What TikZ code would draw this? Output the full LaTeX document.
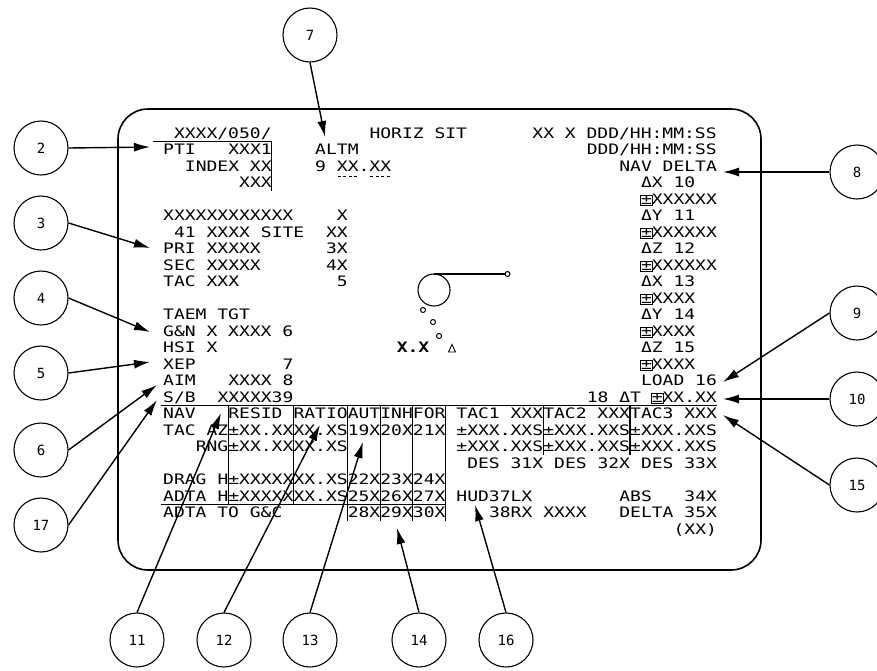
\documentclass[tikz,border=0pt]{standalone}
\usepackage{fontspec}
\usepackage{tikz}
\usetikzlibrary{arrows.meta,calc,positioning}
\newfontfamily\crtfont[FakeStretch=1.25]{DejaVu Sans Mono}
\newfontfamily\tagfont{DejaVu Sans Mono}
\newcommand{\bpm}{{\setlength{\fboxsep}{0.6pt}\setlength{\fboxrule}{0.5pt}\makebox[\fontcharwd\font`X][c]{\fbox{±}}}}
\tikzset{
  crt/.style={anchor=base west, inner sep=0pt, font=\crtfont\fontsize{14.4}{16}\selectfont},
  callout/.style={draw, circle, line width=1.1pt, minimum size=54pt, inner sep=0pt, font=\tagfont\fontsize{14}{14}\selectfont},
  pointer/.style={line width=1.4pt, -{Latex[length=16pt,width=9pt]}},
  bezel/.style={line width=1.6pt, rounded corners=30pt},
  rule/.style={line width=1.2pt}
}

\begin{document}
\begin{tikzpicture}[x=1pt,y=-1pt]
  \useasboundingbox (0,0) rectangle (877,670);
  % screen frame
  \draw[bezel] (118,109) rectangle (761,570);
  % callout circles
  \node[callout] (c7) at (310,35) {7};
  \node[callout] (c2) at (41,148) {2};
  \node[callout] (c3) at (41,223) {3};
  \node[callout] (c4) at (41,298) {4};
  \node[callout] (c5) at (41,373) {5};
  \node[callout] (c6) at (41,450) {6};
  \node[callout] (c17) at (41,525) {17};
  \node[callout] (c8) at (857,172) {8};
  \node[callout] (c9) at (857,313) {9};
  \node[callout] (c10) at (857,399) {10};
  \node[callout] (c15) at (857,485) {15};
  \node[callout] (c11) at (137,640) {11};
  \node[callout] (c12) at (224,640) {12};
  \node[callout] (c13) at (310,640) {13};
  \node[callout] (c14) at (419,640) {14};
  \node[callout] (c16) at (506,640) {16};
  % where the arrows point
  \coordinate (t7) at (325,137);
  \coordinate (t2) at (150,147);
  \coordinate (t3) at (150,248);
  \coordinate (t4) at (150,332);
  \coordinate (t5) at (150,362);
  \coordinate (t6) at (157,385);
  \coordinate (t17) at (157,400);
  \coordinate (t8) at (723,172);
  \coordinate (t9) at (723,382);
  \coordinate (t10) at (723,399);
  \coordinate (t15) at (723,415);
  \coordinate (t11) at (221,413);
  \coordinate (t12) at (320,425);
  \coordinate (t13) at (363,442);
  \coordinate (t14) at (397,528);
  \coordinate (t16) at (475,505);
  \draw[pointer] (c7.south) -- (t7);
  \foreach \n in {2,3,4,5,6,17} \draw[pointer] (c\n.east) -- (t\n);
  \foreach \n in {8,9,10,15} \draw[pointer] (c\n.west) -- (t\n);
  \foreach \n in {11,12,13,14,16} \draw[pointer] (c\n.north) -- (t\n);
  % horizontal situation symbols
  \draw[line width=1.1pt] (434,290) circle[radius=16];
  \draw[line width=1.1pt] (434,274) -- (505,274);
  \draw[line width=1pt] (507.5,274) circle[radius=2.5];
  \foreach \p in {(423,310),(433,322),(439,336)} \draw[line width=1pt] \p circle[radius=2.5];
  \node[crt, anchor=center, font=\crtfont\bfseries\fontsize{14.4}{16}\selectfont] (xdot) at (413,347) {X.X};
  \draw[line width=0.9pt] (448.5,352) -- (455.5,352) -- (452,344.5) -- cycle;
  % display text on a 51 x 26 grid
  \begin{scope}[shift={(163,138.25)}, x=10.86pt, y=-16.5pt]
    \node[crt] (dispid) at (1,0) {XXXX/050/};
    \node[crt] (title) at (19,0) {HORIZ~SIT};
    \node[crt] (gmt) at (34,0) {XX~X~DDD/HH:MM:SS};
    \node[crt] (pti) at (0,1) {PTI};
    \node[crt] (ptinum) at (6,1) {XXX1};
    \node[crt] (altm) at (14,1) {ALTM};
    \node[crt] (met) at (39,1) {DDD/HH:MM:SS};
    \node[crt] (index) at (2,2) {INDEX~XX};
    \node[crt] (item9) at (14,2) {9};
    \node[crt] (altmval) at (16,2) {XX.XX};
    \node[crt] (navdelta) at (42,2) {NAV~DELTA};
    \node[crt] (ptival) at (7,3) {XXX};
    \draw[line width=0.8pt, dash pattern=on 3pt off 2.4pt] (16.1,2.3) -- (17.9,2.3);
    \draw[line width=0.8pt, dash pattern=on 3pt off 2.4pt] (19.1,2.3) -- (20.9,2.3);
    % nav delta column
    \foreach \r/\t in {3/{ΔX~10},5/{ΔY~11},7/{ΔZ~12},9/{ΔX~13},11/{ΔY~14},13/{ΔZ~15}}
      \node[crt] (dl\r) at (44,\r) {\t};
    \foreach \r in {4,6,8} \node[crt] (dv\r) at (44,\r) {\bpm XXXXXX};
    \foreach \r in {10,12,14} \node[crt] (dv\r) at (44,\r) {\bpm XXXX};
    \node[crt] (load) at (44,15) {LOAD~16};
    \node[crt] (dtime) at (39,16) {18~ΔT~\bpm XX.XX};
    % runway block
    \node[crt] (rwid) at (0,5) {XXXXXXXXXXXX};
    \node[crt] (rwx) at (16,5) {X};
    \node[crt] (item41) at (1,6) {41};
    \node[crt] (rwname) at (4,6) {XXXX};
    \node[crt] (site) at (9,6) {SITE};
    \node[crt] (sitenum) at (15,6) {XX};
    \node[crt] (pri) at (0,7) {PRI};
    \node[crt] (prival) at (4,7) {XXXXX};
    \node[crt] (item3) at (15,7) {3X};
    \node[crt] (sec) at (0,8) {SEC};
    \node[crt] (secval) at (4,8) {XXXXX};
    \node[crt] (item4) at (15,8) {4X};
    \node[crt] (tac) at (0,9) {TAC};
    \node[crt] (tacval) at (4,9) {XXX};
    \node[crt] (item5) at (16,9) {5};
    % taem block
    \node[crt] (taem) at (0,11) {TAEM~TGT};
    \node[crt] (gn) at (0,12) {G\&N~X~XXXX~6};
    \node[crt] (hsi) at (0,13) {HSI~X};
    \node[crt] (xep) at (0,14) {XEP};
    \node[crt] (item7) at (11,14) {7};
    \node[crt] (aim) at (0,15) {AIM};
    \node[crt] (aimval) at (6,15) {XXXX~8};
    \node[crt] (sb) at (0,16) {S/B};
    \node[crt] (sbval) at (5,16) {XXXXX39};
    % air data table
    \node[crt] (nav) at (0,17) {NAV};
    \node[crt] (resid) at (6,17) {RESID};
    \node[crt] (ratio) at (12,17) {RATIO};
    \node[crt] (aut) at (17,17) {AUT};
    \node[crt] (inh) at (20,17) {INH};
    \node[crt] (for) at (23,17) {FOR};
    \node[crt] (tac1) at (27,17) {TAC1~XXX};
    \node[crt] (tac2) at (35,17) {TAC2~XXX};
    \node[crt] (tac3) at (43,17) {TAC3~XXX};
    \node[crt] (tacaz) at (0,18) {TAC};
    \node[crt] (az) at (4,18) {AZ};
    \node[crt] (rng) at (3,19) {RNG};
    \foreach \r in {18,19} {
      \node[crt] (res\r) at (6,\r) {±XX.XX};
      \node[crt] (rat\r) at (12,\r) {XX.XS};
      \foreach \c in {27,35,43} \node[crt] (tv\r c\c) at (\c,\r) {±XXX.XXS};
    }
    \node[crt] (i19) at (17,18) {19X};
    \node[crt] (i20) at (20,18) {20X};
    \node[crt] (i21) at (23,18) {21X};
    \node[crt] (des1) at (28,20) {DES~31X};
    \node[crt] (des2) at (36,20) {DES~32X};
    \node[crt] (des3) at (44,20) {DES~33X};
    \node[crt] (drag) at (0,21) {DRAG};
    \node[crt] (adta) at (0,22) {ADTA};
    \foreach \r in {21,22} {
      \node[crt] (h\r) at (5,\r) {H};
      \node[crt] (hres\r) at (6,\r) {±XXXXX};
      \node[crt] (hrat\r) at (12,\r) {XX.XS};
    }
    \node[crt] (i22) at (17,21) {22X};
    \node[crt] (i23) at (20,21) {23X};
    \node[crt] (i24) at (23,21) {24X};
    \node[crt] (i25) at (17,22) {25X};
    \node[crt] (i26) at (20,22) {26X};
    \node[crt] (i27) at (23,22) {27X};
    \node[crt] (adtagc) at (0,23) {ADTA~TO~G\&C};
    \node[crt] (i28) at (17,23) {28X};
    \node[crt] (i29) at (20,23) {29X};
    \node[crt] (i30) at (23,23) {30X};
    % hud and abs/delta
    \node[crt] (hud) at (27,22) {HUD37LX};
    \node[crt] (hudr) at (30,23) {38RX};
    \node[crt] (hudval) at (35,23) {XXXX};
    \node[crt] (abs) at (42,22) {ABS};
    \node[crt] (i34) at (48,22) {34X};
    \node[crt] (delta) at (42,23) {DELTA};
    \node[crt] (i35) at (48,23) {35X};
    \node[crt] (absval) at (47,24) {(XX)};
    % table rules
    \draw[rule] (-0.9,0.18) -- (10,0.18) -- (10,3.18);
    \draw[rule] (-0.15,16.18) -- (51,16.18);
    \draw[rule] (-0.15,22.18) -- (26,22.18);
    \foreach \c in {6,12} \draw[rule] (\c,16.18) -- (\c,22.18);
    \foreach \c in {17,20,23,26} \draw[rule] (\c,16.18) -- (\c,23.18);
    \foreach \c in {35,43} \draw[rule] (\c,16.18) -- (\c,19.18);
  \end{scope}
\end{tikzpicture}
\end{document}
